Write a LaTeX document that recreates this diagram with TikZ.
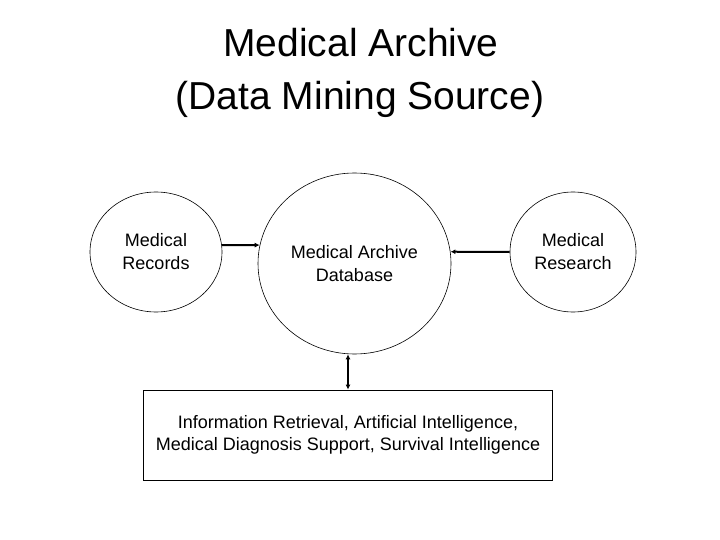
\documentclass[tikz,border=0pt]{standalone}
\usepackage{fontspec}
\setmainfont{Liberation Sans}
\usetikzlibrary{arrows.meta,shapes.geometric}

\begin{document}
\begin{tikzpicture}[
  x=1pt,y=1pt,
  blob/.style={draw,ellipse,inner sep=0pt,align=center,line width=.6pt,
    font=\fontsize{18}{23}\selectfont},
  box/.style={draw,minimum width=409pt,minimum height=90pt,align=center,
    line width=.8pt,font=\fontsize{18}{21.5}\selectfont},
  heading/.style={anchor=base,font=\fontsize{39}{47}\selectfont},
  >={Latex[length=5pt,width=5pt]},
  link/.style={line width=2pt}
]
\useasboundingbox (0,0) rectangle (720,-540);

% title
\node[heading] (title) at (361,-56.7) {Medical Archive};
\node[heading] (subtitle) at (360,-109.3) {(Data Mining Source)};

% sources and archive
\node[blob,minimum width=132pt,minimum height=120pt] (rec) at (156,-252) {Medical\\Records};
\node[blob,minimum width=193pt,minimum height=181pt] (db) at (354.5,-263.5) {Medical Archive\\Database};
\node[blob,minimum width=126pt,minimum height=120pt] (res) at (573,-252) {Medical\\Research};

% applications
\node[box] (app) at (348,-435) {Information Retrieval, Artificial Intelligence,\\Medical Diagnosis Support, Survival Intelligence};

\draw[link,->] (rec.6) -- (db.169);
\draw[link,->] (res.west) -- (db.7);
\draw[link,<->] (db.south -| app.north) -- (app.north);
\end{tikzpicture}
\end{document}
